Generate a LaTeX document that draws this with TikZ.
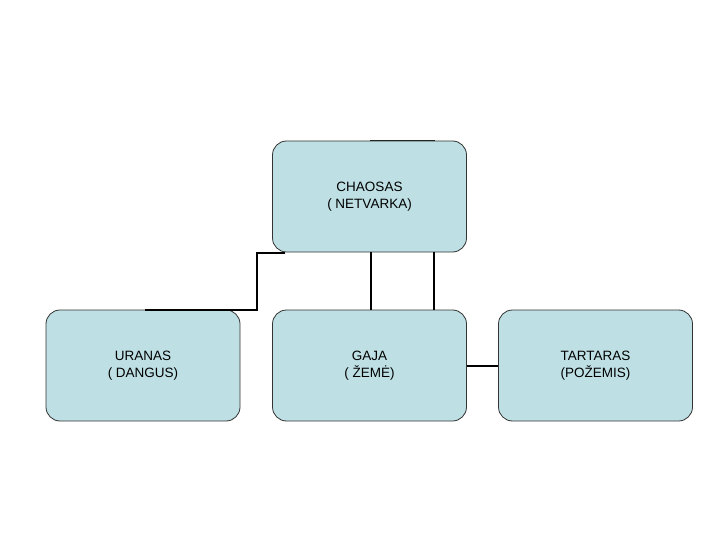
\documentclass[tikz,border=0pt]{standalone}
\usepackage{fontspec}
\setmainfont{Liberation Sans}
\begin{document}
\begin{tikzpicture}[x=1pt,y=-1pt,
  box/.style={draw=black!80,line width=0.8pt,fill=boxc,rounded corners=14pt,minimum width=194pt,minimum height=111pt,align=center,font=\fontsize{13.5}{17}\selectfont,inner sep=0pt},
  conn/.style={line width=2pt,black}]
\definecolor{boxc}{HTML}{BEE0E4}
\useasboundingbox (0,0) rectangle (720,540);
\coordinate (tl) at (370,141); \coordinate (tr) at (435,141);
\coordinate (c1) at (285,253); \coordinate (c2) at (145,310);
\draw[conn] (tl) -- (tr);
\node[box] (ch) at (369.5,196.5) {CHAOSAS\\( NETVARKA)};
\node[box] (ur) at (143,365.5) {URANAS\\( DANGUS)};
\node[box] (ga) at (369.5,365.5) {GAJA\\( ŽEMĖ)};
\node[box] (ta) at (595.5,365.5) {TARTARAS\\(POŽEMIS)};
\draw[conn] (c1) -| (257,310) -- (c2);
\draw[conn] (ch.south) ++(1,0) -- (ga.north -| 370.5,0);
\draw[conn] (434,252) -- (434,310);
\draw[conn] (ga.east) -- (ta.west);
\end{tikzpicture}
\end{document}
